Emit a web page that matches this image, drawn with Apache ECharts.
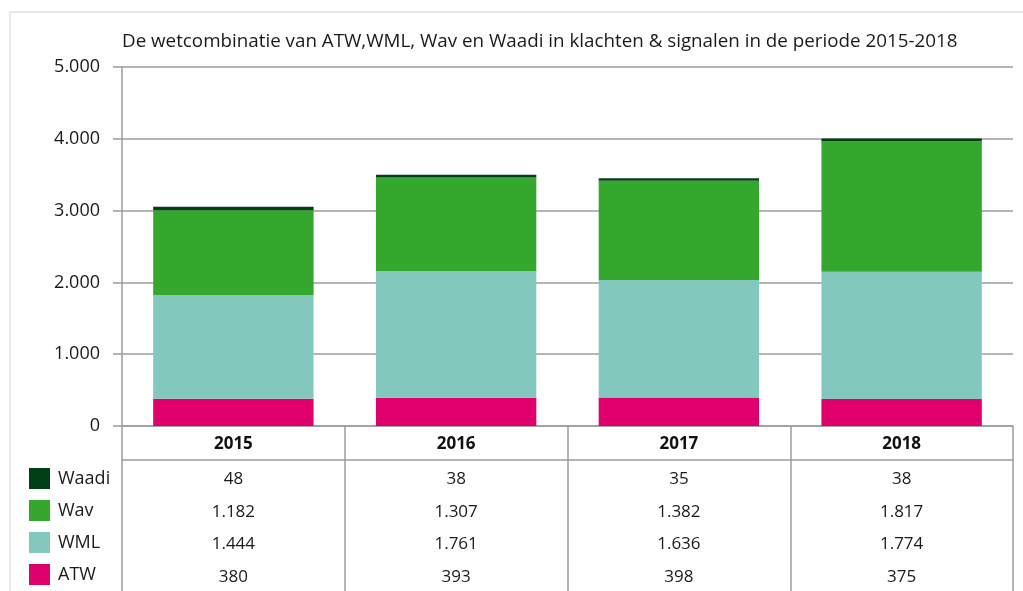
<!DOCTYPE html>
<html><head><meta charset="utf-8">
<script src="https://cdn.jsdelivr.net/npm/echarts@6/dist/echarts.min.js"></script>
<style>html,body{margin:0;padding:0;background:#fff}#c{width:1023px;height:591px}</style>
</head><body><div id="c"></div>
<script>
var categories = ['2015', '2016', '2017', '2018'];
var atw = [380, 393, 398, 375];
var wml = [1444, 1761, 1636, 1774];
var wav = [1182, 1307, 1382, 1817];
var waadi = [48, 38, 35, 38];
var yTicks = [0, 1000, 2000, 3000, 4000, 5000];
var titleText = 'De wetcombinatie van ATW,WML, Wav en Waadi in klachten & signalen in de periode 2015-2018';

var FONT = 'Open Sans';
function fmt(n) { return String(n).replace(/\B(?=(\d{3})+(?!\d))/g, '.'); }

var chart = echarts.init(document.getElementById('c'));
var gridLine = '#9c9c9c';
chart.setOption({
  animation: false,
  textStyle: { fontFamily: FONT },
  title: {
    text: titleText, left: 117, top: 27,
    textStyle: { fontFamily: FONT, fontSize: 18.8, fontWeight: 'normal', color: '#1a1a1a' }
  },
  graphic: [
    { type: 'line', shape: { x1: 10, y1: 12, x2: 1023, y2: 12 }, style: { stroke: '#e0e0e0', lineWidth: 1.5 } },
    { type: 'line', shape: { x1: 10, y1: 12, x2: 10, y2: 591 }, style: { stroke: '#e0e0e0', lineWidth: 1.5 } }
  ],
  legend: {
    orient: 'vertical', left: 24, top: 463, height: 128, itemWidth: 21, itemHeight: 21, itemGap: 11,
    icon: 'rect', data: ['Waadi', 'Wav', 'WML', 'ATW'],
    textStyle: { fontFamily: FONT, fontSize: 18, color: '#1a1a1a', padding: [0, 0, 0, 3] },
    selectedMode: false
  },
  grid: { left: 122, right: 10, top: 67, bottom: 165 },
  xAxis: [{
    type: 'category', data: categories, position: 'bottom',
    axisLine: { show: true, lineStyle: { color: gridLine, width: 1.5 } },
    axisTick: { show: true, alignWithLabel: false, interval: 0, length: 165, lineStyle: { color: gridLine, width: 1.5 } },
    axisLabel: {
      interval: 0, margin: -1,
      formatter: function (v, i) {
        return '{y|' + v + '}\n{v|' + fmt(waadi[i]) + '}\n{v|' + fmt(wav[i]) + '}\n{v|' + fmt(wml[i]) + '}\n{v|' + fmt(atw[i]) + '}';
      },
      rich: {
        y: { fontFamily: FONT, fontSize: 17, fontWeight: 'bold', color: '#111', lineHeight: 38 },
        v: { fontFamily: FONT, fontSize: 17, color: '#1a1a1a', lineHeight: 32.5 }
      }
    }
  }, {
    type: 'category', data: categories, position: 'bottom', offset: 34,
    axisLine: { show: true, lineStyle: { color: gridLine, width: 1.5 } },
    axisTick: { show: false }, axisLabel: { show: false }
  }],
  yAxis: {
    type: 'value', min: 0, max: 5000, interval: 1000,
    axisLine: { show: true, lineStyle: { color: gridLine, width: 1.5 } },
    axisTick: { show: true, length: 9, lineStyle: { color: gridLine, width: 1.5 } },
    splitLine: { show: true, lineStyle: { color: gridLine, width: 1.5 } },
    axisLabel: {
      margin: 22, fontFamily: FONT, fontSize: 18, color: '#1a1a1a',
      formatter: function (v) { return yTicks.indexOf(v) >= 0 ? fmt(v) : ''; }
    }
  },
  series: [
    { name: 'ATW', type: 'bar', stack: 't', data: atw, barCategoryGap: '28%', itemStyle: { color: '#e0006d' } },
    { name: 'WML', type: 'bar', stack: 't', data: wml, itemStyle: { color: '#82c8bc' } },
    { name: 'Wav', type: 'bar', stack: 't', data: wav, itemStyle: { color: '#33a82c' } },
    { name: 'Waadi', type: 'bar', stack: 't', data: waadi, itemStyle: { color: '#003f18' } }
  ]
});
</script></body></html>
